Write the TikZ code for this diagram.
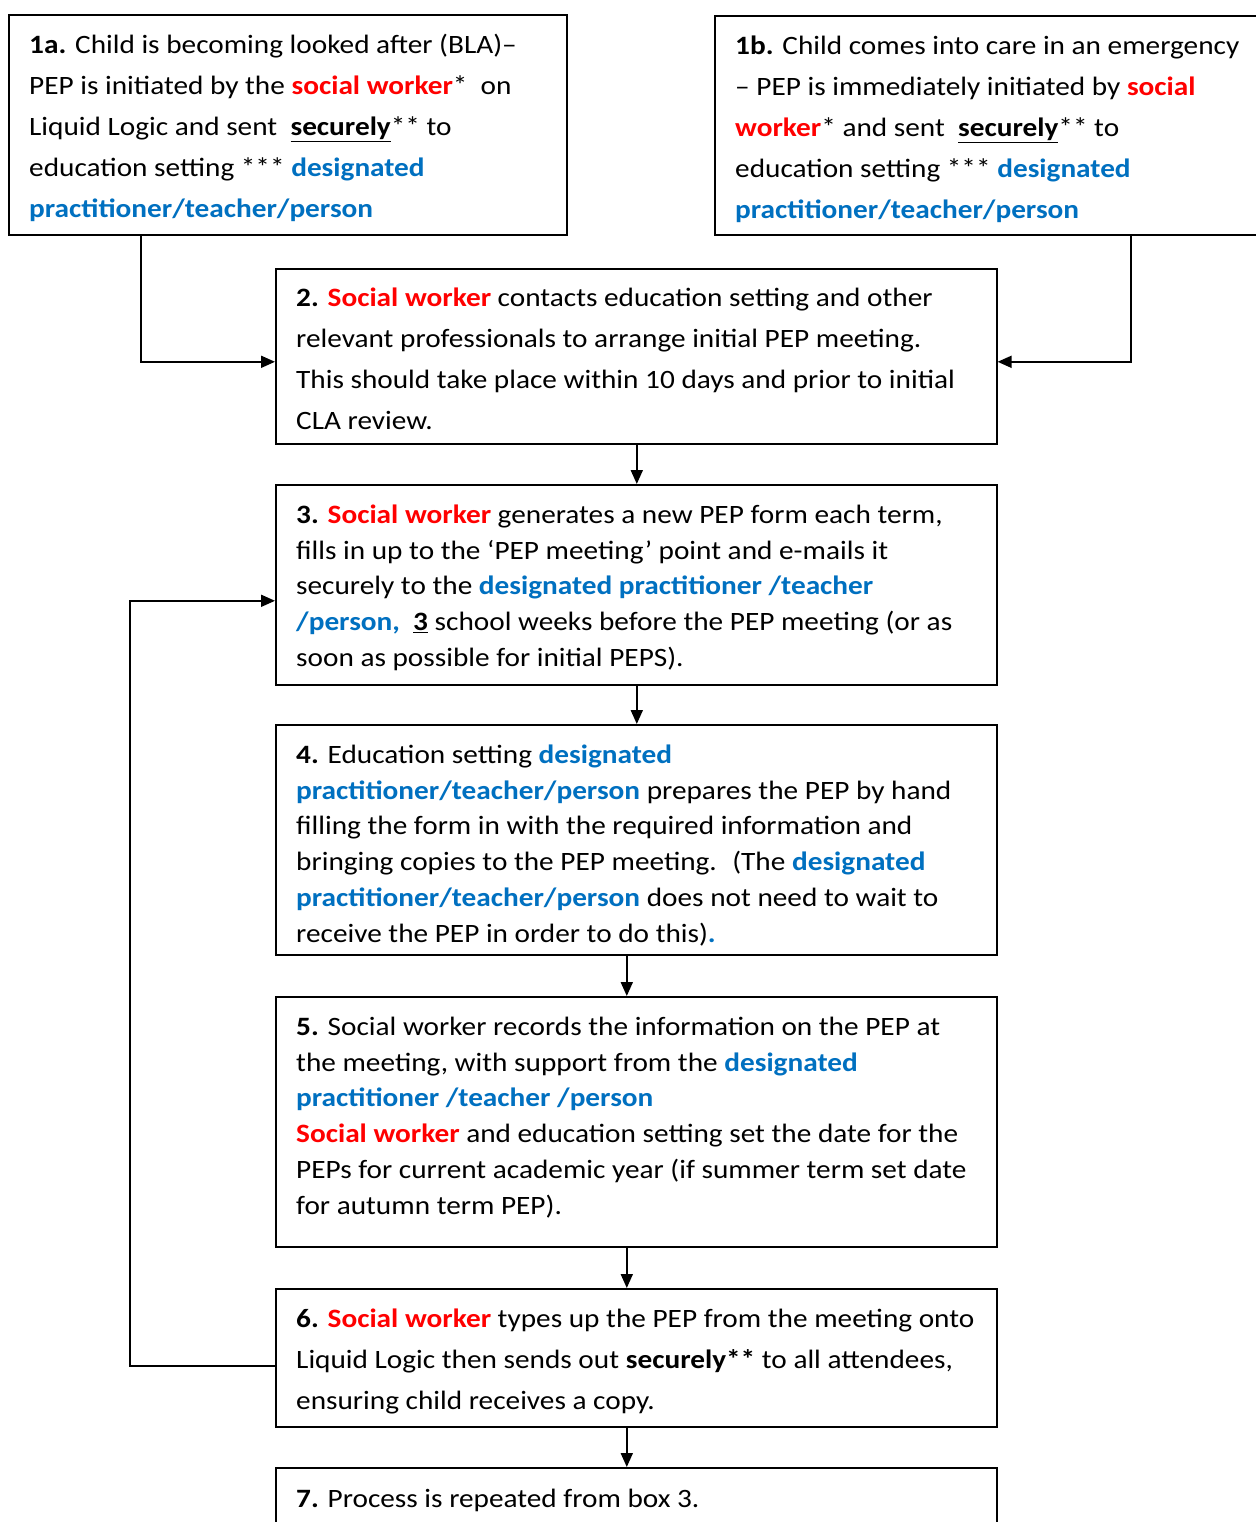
\documentclass[tikz,border=0pt]{standalone}
\usepackage{fontspec}
\setmainfont{Carlito}[FakeStretch=1.105]
\usetikzlibrary{arrows.meta,calc}
\definecolor{swred}{HTML}{FF0000}
\definecolor{dpblue}{HTML}{0070C0}
\newcommand\swk[1]{\textbf{\textcolor{swred}{#1}}}
\newcommand\dpt[1]{\textbf{\textcolor{dpblue}{#1}}}
\newcommand\bul[1]{\textbf{\underline{#1}}}
\newcommand\tst{\rule{0pt}{24pt}}
\tikzset{
  box/.style={draw=black, line width=1.6pt, rectangle, inner sep=0pt, anchor=north west},
  txtwide/.style={anchor=north west, inner sep=0pt, align=left, font=\fontsize{26.5pt}{41.2pt}\selectfont},
  txtnarrow/.style={anchor=north west, inner sep=0pt, align=left, font=\fontsize{26.5pt}{35.8pt}\selectfont},
  conn/.style={line width=1.8pt, -{Triangle[length=14pt,width=12pt]}}
}
\begin{document}
\begin{tikzpicture}[x=1pt,y=-1pt]
\useasboundingbox (0,0) rectangle (1255,1522);
\fill[white] (0,0) rectangle (1255,1522);
% boxes
\node[box, minimum width=558pt, minimum height=220pt] (b1a) at (8,14) {};
\node[box, minimum width=560pt, minimum height=219pt] (b1b) at (714,15) {};
\node[box, minimum width=721pt, minimum height=175pt] (b2) at (275,268) {};
\node[box, minimum width=721pt, minimum height=200pt] (b3) at (275,484) {};
\node[box, minimum width=721pt, minimum height=230pt] (b4) at (275,724) {};
\node[box, minimum width=721pt, minimum height=250pt] (b5) at (275,996) {};
\node[box, minimum width=721pt, minimum height=138pt] (b6) at (275,1288) {};
\node[box, minimum width=721pt, minimum height=120pt] (b7) at (275,1467) {};
% texts
\node[txtwide] (t1a) at (29,29) {\tst\textbf{1a.} Child is becoming looked after (BLA)--\\
PEP is initiated by the \swk{social worker}*~ on\\
Liquid Logic and sent~ \bul{securely}** to\\
education setting *** \dpt{designated}\\
\dpt{practitioner/teacher/person}};
\node[txtwide] (t1b) at (735,30) {\tst\textbf{1b.} Child comes into care in an emergency\\
-- PEP is immediately initiated by \swk{social}\\
\swk{worker}* and sent~ \bul{securely}** to\\
education setting *** \dpt{designated}\\
\dpt{practitioner/teacher/person}};
\node[txtwide] (t2) at (296,282) {\tst\textbf{2.} \swk{Social worker} contacts education setting and other\\
relevant professionals to arrange initial PEP meeting.\\
This should take place within 10 days and prior to initial\\
CLA review.};
\node[txtnarrow] (t3) at (296,499) {\tst\textbf{3.} \swk{Social worker} generates a new PEP form each term,\\
fills in up to the ‘PEP meeting’ point and e-mails it\\
securely to the \dpt{designated practitioner /teacher}\\
\dpt{/person,}~ \bul{3} school weeks before the PEP meeting (or as\\
soon as possible for initial PEPS).};
\node[txtnarrow] (t4) at (296,739) {\tst\textbf{4.} Education setting \dpt{designated}\\
\dpt{practitioner/teacher/person} prepares the PEP by hand\\
filling the form in with the required information and\\
bringing copies to the PEP meeting.~ (The \dpt{designated}\\
\dpt{practitioner/teacher/person} does not need to wait to\\
receive the PEP in order to do this)\dpt{.}};
\node[txtnarrow] (t5) at (296,1011) {\tst\textbf{5.} Social worker records the information on the PEP at\\
the meeting, with support from the \dpt{designated}\\
\dpt{practitioner /teacher /person}\\
\swk{Social worker} and education setting set the date for the\\
PEPs for current academic year (if summer term set date\\
for autumn term PEP).};
\node[txtwide] (t6) at (296,1303) {\tst\textbf{6.} \swk{Social worker} types up the PEP from the meeting onto\\
Liquid Logic then sends out \textbf{securely**} to all attendees,\\
ensuring child receives a copy.};
\node[txtwide] (t7) at (296,1483) {\tst\textbf{7.} Process is repeated from box 3.};
% connectors
\draw[conn] ([xshift=133pt]b1a.south west) |- ([yshift=-5.5pt]b2.west);
\draw[conn] ([xshift=417pt]b1b.south west) |- ([yshift=-5.5pt]b2.east);
\draw[conn] ([xshift=0.5pt]b2.south) -- ([xshift=0.5pt]b3.north);
\draw[conn] ([xshift=0.5pt]b3.south) -- ([xshift=0.5pt]b4.north);
\draw[conn] ([xshift=-9.5pt]b4.south) -- ([xshift=-9.5pt]b5.north);
\draw[conn] ([xshift=-9.5pt]b5.south) -- ([xshift=-9.5pt]b6.north);
\draw[conn] ([xshift=-9.5pt]b6.south) -- ([xshift=-9.5pt]b7.north);
\draw[conn] ([yshift=-8pt]b6.west) -- ++(-145,0) coordinate (loopc) |- ([yshift=-16pt]b3.west);
\end{tikzpicture}
\end{document}
